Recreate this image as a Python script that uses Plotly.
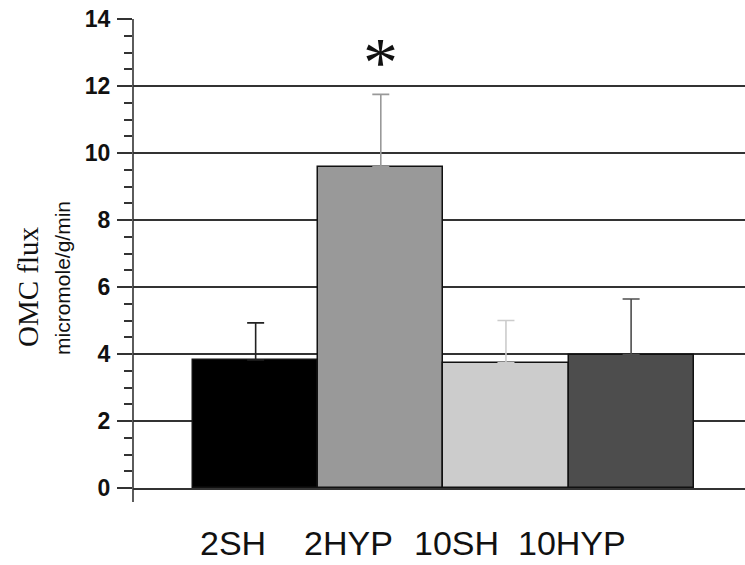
import plotly.graph_objects as go

categories = ["2SH", "2HYP", "10SH", "10HYP"]
means = [3.82, 9.59, 3.74, 3.98]
errors = [1.11, 2.16, 1.26, 1.66]
bar_colors = ["#000000", "#999999", "#cccccc", "#4d4d4d"]
err_colors = ["#222222", "#999999", "#cccccc", "#4d4d4d"]
y_ticks = [0, 2, 4, 6, 8, 10, 12, 14]
star_label = "*"
star_category = "2HYP"
star_value = 13.13

W, H = 745, 565
L, R, T, B = 133, 0, 19, 77
PW = W - L - R
PH = H - T - B

fig = go.Figure()
for c, m, e, bc, ec in zip(categories, means, errors, bar_colors, err_colors):
    fig.add_trace(go.Bar(
        x=[c], y=[m], width=1.0,
        marker=dict(color=bc, line=dict(color="#111111", width=1.5)),
        error_y=dict(type="data", array=[e], symmetric=False, arrayminus=[0],
                     color=ec, thickness=1.6, width=8.5),
        showlegend=False,
    ))

fig.update_layout(
    width=W, height=H,
    margin=dict(l=L, r=R, t=T, b=B, pad=0, autoexpand=False),
    paper_bgcolor="white", plot_bgcolor="white",
    barmode="overlay", bargap=0,
    xaxis=dict(type="category", categoryorder="array", categoryarray=categories,
               range=[-0.98, 3.91], showticklabels=False, ticks="",
               showgrid=False, showline=True, linecolor="#333333", linewidth=1.5,
               zeroline=False),
    yaxis=dict(range=[0, 14], tickvals=y_ticks, ticks="outside", ticklen=15,
               tickwidth=1.5, tickcolor="#333333",
               minor=dict(dtick=0.5, ticks="outside", ticklen=8, tickwidth=1.5,
                          tickcolor="#333333", showgrid=False),
               showgrid=True, gridcolor="#333333", gridwidth=1.5,
               showline=False, zeroline=False, automargin=False,
               tickfont=dict(family="Liberation Sans", size=23, color="#111111",
                             weight="bold"),
               ticklabelstandoff=2),
)

# y axis line extending below zero
fig.add_shape(type="line", xref="paper", yref="paper",
              x0=0, x1=0, y0=-14 / PH, y1=1,
              line=dict(color="#333333", width=1.6))

# category labels
xshifts = [-23, -32, -49, -59]
for c, xs in zip(categories, xshifts):
    fig.add_annotation(x=c, xref="x", y=-55 / PH, yref="paper", text=c,
                       showarrow=False, xshift=xs, yanchor="middle", xanchor="center",
                       font=dict(family="Liberation Sans", size=34, color="#111111"))

# axis titles
fig.add_annotation(x=(28 - L) / PW, xref="paper", y=(488 - 287) / PH, yref="paper",
                   text="OMC flux", textangle=-90, showarrow=False,
                   xanchor="center", yanchor="middle",
                   font=dict(family="Liberation Serif", size=29, color="#111111"))
fig.add_annotation(x=(62 - L) / PW, xref="paper", y=(488 - 278) / PH, yref="paper",
                   text="micromole/g/min", textangle=-90, showarrow=False,
                   xanchor="center", yanchor="middle",
                   font=dict(family="Liberation Sans", size=21, color="#111111"))

# significance asterisk
fig.add_annotation(x=star_category, xref="x", y=star_value, yref="y",
                   text=star_label, showarrow=False, yanchor="middle", yshift=-14,
                   font=dict(family="Liberation Serif", size=70, color="#111111"))

fig.write_html("out.html",
               config={"displayModeBar": False},
               post_script="document.body.style.margin='0';document.body.style.overflow='hidden';")
